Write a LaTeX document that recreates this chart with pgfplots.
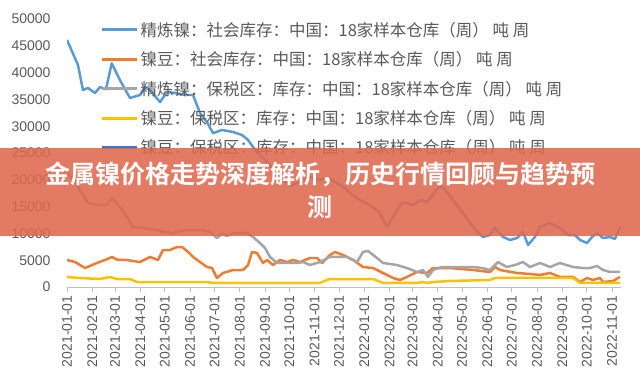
\documentclass[border=0pt]{standalone}
\usepackage{fontspec}
\usepackage{pgfplots}
\pgfplotsset{compat=1.18}
\setmainfont{Liberation Sans}
\newfontfamily\cjk{Noto Sans CJK SC}
\newfontfamily\cjkb{Noto Sans CJK SC Bold}
\definecolor{c1}{HTML}{5B9BD5}
\definecolor{c2}{HTML}{ED7D31}
\definecolor{c3}{HTML}{A5A5A5}
\definecolor{c4}{HTML}{FFC000}
\definecolor{c5}{HTML}{4472C4}
\definecolor{tx}{HTML}{595959}
\definecolor{banner}{RGB}{222,104,78}
\begin{document}
\begin{tikzpicture}
\path[use as bounding box] (0,0) rectangle (640bp,384bp);
\begin{axis}[
  at={(67bp,97bp)}, anchor=south west,
  scale only axis, width=554bp, height=268bp,
  xmin=0, xmax=680, ymin=0, ymax=50000,
  scaled y ticks=false,
  axis x line*=bottom, axis y line*=left,
  y axis line style={draw=none},
  x axis line style={draw=black!25, line width=0.8pt},
  major y tick style={draw=none},
  major x tick style={draw=black!25, line width=0.8pt},
  tick align=outside, major tick length=5bp,
  xtick={0,31,59,90,120,151,181,212,243,273,304,334,365,396,424,455,485,516,546,577,608,638,669},
  xticklabels={2021-01-01,2021-02-01,2021-03-01,2021-04-01,2021-05-01,2021-06-01,2021-07-01,2021-08-01,2021-09-01,2021-10-01,2021-11-01,2021-12-01,2022-01-01,2022-02-01,2022-03-01,2022-04-01,2022-05-01,2022-06-01,2022-07-01,2022-08-01,2022-09-01,2022-10-01,2022-11-01},
  xticklabel style={rotate=90, anchor=east, font=\fontsize{14bp}{16bp}\selectfont, text=tx},
  ytick={0,5000,...,50000},
  yticklabel style={font=\fontsize{14bp}{16bp}\selectfont, text=tx, xshift=-8bp},
  /pgf/number format/1000 sep={},
  /pgf/number format/assume math mode=true,
  legend style={draw=none, fill=none, at={(0.055,1.004)}, anchor=north west,
    font=\cjk\fontsize{16.5bp}{19bp}\selectfont, text=tx, row sep=9.8bp,
    legend cell align=left},
  legend image code/.code={\draw[#1, line width=3pt] (0,0) -- (35bp,0);},
  every axis plot/.append style={line width=2.5pt, line join=round},
]
\addplot[c1, no marks] coordinates {
(0,46100)(13.5,41400)(19.6,36750)(25.8,37130)(34.4,36200)(40.5,37300)(47.9,36900)(54.9,41740)(65,38600)(77.3,35260)(89.6,35820)(95.7,37300)(101.9,36750)(114.2,34500)(122.7,36380)(132.6,36200)(144.8,35820)(154.7,35820)(163.3,32460)(171.8,30780)(179.2,28700)(190.3,29290)(203.8,28920)(214.8,28360)(222.2,27430)(228.3,26120)(236.8,24630)(245.5,23320)(255.3,21460)(265.1,19960)(273.7,18840)(282.3,19400)(292.1,20340)(300.7,20520)(310.5,19960)(320.4,20340)(331.4,19400)(341.2,18470)(349.8,17160)(359.6,16230)(371.9,15300)(384.2,13810)(392.8,11190)(405.1,14370)(412.4,15860)(424.7,15300)(433.3,16230)(441.9,15860)(455.4,18470)(461.5,18660)(473.8,16230)(486.1,13810)(498.3,11190)(510.6,9330)(519.2,9700)(525.4,11010)(535.2,9330)(543.8,8770)(552.4,9140)(559.7,10260)(565.9,7840)(574.4,9330)(580.6,11190)(592.9,11940)(605.1,11010)(615,9700)(623.5,9700)(629.7,8770)(638.3,8210)(644.4,9330)(650.6,10070)(657.9,9140)(666.5,9330)(672.6,8960)(678.8,11190)
};
\addlegendentry{精炼镍：社会库存：中国：18家样本仓库（周） 吨 周}
\addplot[c2, no marks] coordinates {
(0,5040)(9.8,4660)(22.1,3540)(36.8,4480)(46.6,5040)(55.2,5600)(62.6,5040)(73.6,5040)(81,4850)(89.6,4660)(101.9,5600)(111.7,5040)(117.8,6900)(126.4,6900)(135,7460)(141.2,7460)(147.3,6720)(154.7,5600)(163.3,4660)(171.8,3730)(178,3540)(184.1,1680)(191.5,2610)(203.8,3170)(216,3170)(222.2,4100)(227.1,6530)(233.2,6340)(240.6,4480)(245.5,5040)(252.9,4100)(261.4,5040)(270,4660)(277.4,5040)(286,4660)(298.3,5410)(306.9,5410)(313,4480)(322.8,5970)(329,6530)(338.8,5970)(351.1,5040)(363.3,3730)(375.6,3540)(387.9,2610)(400.2,1680)(408.7,1310)(417.3,1870)(429.6,2800)(441.9,2610)(449.2,3540)(460.3,3540)(470.1,3540)(498.3,3170)(519.2,2800)(525.4,3730)(531.5,3170)(552.4,2610)(568.3,2430)(580.6,2240)(592.9,2610)(605.1,1870)(621.1,1870)(629.7,930)(638.3,1680)(645.6,1310)(654.2,1680)(657.9,930)(670.2,1120)(678.8,1870)
};
\addlegendentry{镍豆：社会库存：中国：18家样本仓库（周） 吨 周}
\addplot[c3, no marks] coordinates {
(0,21270)(8.6,19960)(16,18100)(25.8,15670)(36.8,15300)(49.1,15300)(55.2,16600)(65,14930)(73.6,13060)(81,11190)(93.3,11010)(101.9,10820)(110.5,10630)(120.3,10260)(130.1,10070)(138.7,10450)(147.3,10630)(157.1,10630)(166.9,10630)(175.5,10260)(184.1,9140)(190.3,9890)(196.4,9520)(206.2,10070)(220.9,10070)(228.3,9330)(236.9,8210)(243,7280)(249.2,5600)(257.8,4480)(270,4480)(282.3,4480)(289.7,4660)(298.3,4100)(310.5,4660)(322.8,5600)(335.1,5600)(343.7,5600)(356,4660)(363.3,6530)(369.5,6720)(380.5,5410)(387.9,4480)(405.1,4100)(417.3,3540)(429.6,2800)(437,3170)(443.1,1870)(449.2,3170)(460.3,3730)(470.1,3730)(482.4,3730)(498.3,3730)(509.4,3540)(519.2,3170)(529,4660)(540,3730)(549.9,4100)(559.7,4660)(568.3,3730)(580.6,4480)(592.9,3730)(605.1,4480)(621.1,3730)(633.4,3540)(642,3540)(650.6,3920)(657.9,3170)(666.5,2800)(678.8,2800)
};
\addlegendentry{精炼镍：保税区：库存：中国：18家样本仓库（周） 吨 周}
\addplot[c4, no marks] coordinates {
(0,1870)(16,1680)(40.5,1490)(52.8,1870)(61.4,1490)(77.3,1490)(85.9,930)(171.8,930)(179.2,750)(236.9,750)(310.5,750)(319.1,1310)(322.8,1490)(375.6,1490)(387.9,750)(429.6,750)(437,930)(441.9,750)(449.2,930)(470.1,1120)(519.2,1310)(525.4,1680)(621.1,1680)(629.7,750)(678.8,750)
};
\addlegendentry{镍豆：保税区：库存：中国：18家样本仓库（周） 吨 周}
\addlegendimage{c5, line width=3pt}
\addlegendentry{镍豆：保税区：库存：中国：18家样本仓库（周） 吨 周}
\end{axis}
\fill[banner, opacity=0.88] (0,148bp) rectangle (640bp,236bp);
\node[text=white, font=\cjkb\fontsize{25bp}{33bp}\selectfont, align=center, anchor=north] at (320bp,226bp) {金属镍价格走势深度解析，历史行情回顾与趋势预\\测};
\end{tikzpicture}
\end{document}
